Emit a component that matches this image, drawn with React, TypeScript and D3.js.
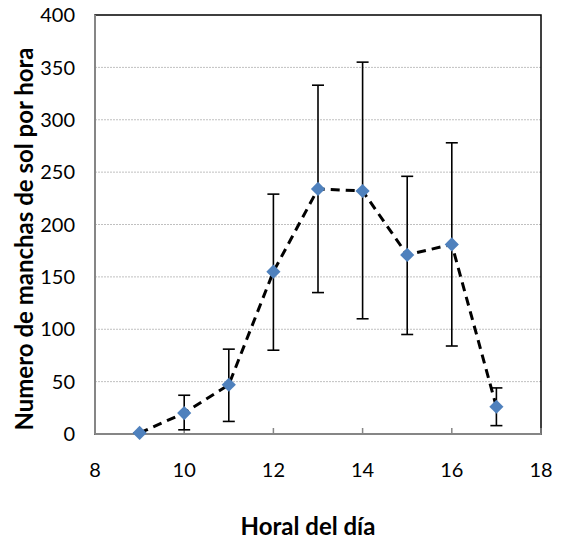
import React from "react";
import * as d3 from "d3";

// Sunspot counts per hour of day, with error ranges
const hours = [9, 10, 11, 12, 13, 14, 15, 16, 17];
const counts = [1, 20, 47, 155, 234, 232, 171, 181, 26];
const upper = [1, 37, 81, 229, 333, 355, 246, 278, 44];
const lower = [1, 4, 12, 80, 135, 110, 95, 84, 8];
const xTicks = [8, 10, 12, 14, 16, 18];
const yTicks = [0, 50, 100, 150, 200, 250, 300, 350, 400];

const W = 564;
const H = 540;
const left = 95;
const right = 541;
const top = 15;
const bottom = 434;
const font = "Lato, 'Open Sans', sans-serif";

export default function App() {
  const x = d3.scaleLinear().domain([8, 18]).range([left, right]);
  const y = d3.scaleLinear().domain([0, 400]).range([bottom, top]);
  const pts = hours.map((h, i) => ({ h, v: counts[i], hi: upper[i], lo: lower[i] }));
  const line = d3
    .line<(typeof pts)[number]>()
    .x((d) => x(d.h))
    .y((d) => y(d.v));
  const diamond = d3.symbol().type(d3.symbolDiamond2).size(128)();

  return (
    <svg width={W} height={H} style={{ position: "absolute", left: 0, top: 0, background: "#fff" }}>
      {/* gridlines */}
      {yTicks.slice(1, -1).map((t) => (
        <line key={t} x1={left} x2={right} y1={y(t)} y2={y(t)} stroke="#c0c0c0" strokeWidth={1} strokeDasharray="2,1" />
      ))}
      {/* plot frame */}
      <rect x={left} y={top} width={right - left} height={bottom - top} fill="none" stroke="#000" strokeWidth={1.5} />
      <line x1={left} x2={left} y1={top} y2={bottom} stroke="#868686" strokeWidth={2} />
      <line x1={left} x2={right} y1={bottom} y2={bottom} stroke="#868686" strokeWidth={2} />
      {xTicks.map((t) => (
        <line key={t} x1={x(t)} x2={x(t)} y1={bottom} y2={bottom - 6} stroke="#868686" strokeWidth={1.5} />
      ))}
      {/* tick labels */}
      {yTicks.map((t) => (
        <text key={t} x={75} y={y(t)} dy="0.36em" textAnchor="end" fontFamily={font} fontSize={20} fill="#000">
          {t}
        </text>
      ))}
      {xTicks.map((t) => (
        <text key={t} x={x(t)} y={477} textAnchor="middle" fontFamily={font} fontSize={20} fill="#000">
          {t}
        </text>
      ))}
      {/* error bars */}
      {pts.map((d) => (
        <g key={d.h} stroke="#000" strokeWidth={1.6}>
          <line x1={x(d.h)} x2={x(d.h)} y1={y(d.hi)} y2={y(d.lo)} />
          <line x1={x(d.h) - 6} x2={x(d.h) + 6} y1={y(d.hi)} y2={y(d.hi)} />
          <line x1={x(d.h) - 6} x2={x(d.h) + 6} y1={y(d.lo)} y2={y(d.lo)} />
        </g>
      ))}
      {/* dashed series line */}
      <path d={line(pts) ?? ""} fill="none" stroke="#000" strokeWidth={3} strokeDasharray="9,6" />
      {/* markers */}
      {pts.map((d) => (
        <path key={d.h} d={diamond ?? ""} transform={`translate(${x(d.h)},${y(d.v)})`} fill="#4f81bd" />
      ))}
      {/* axis titles */}
      <text x={308} y={535} textAnchor="middle" fontFamily={font} fontSize={24} fontWeight="bold" fill="#000">
        Horal del día
      </text>
      <text
        transform={`translate(33,239) rotate(-90)`}
        textAnchor="middle"
        fontFamily={font}
        fontSize={24}
        fontWeight="bold"
        fill="#000"
      >
        Numero de manchas de sol por hora
      </text>
    </svg>
  );
}
